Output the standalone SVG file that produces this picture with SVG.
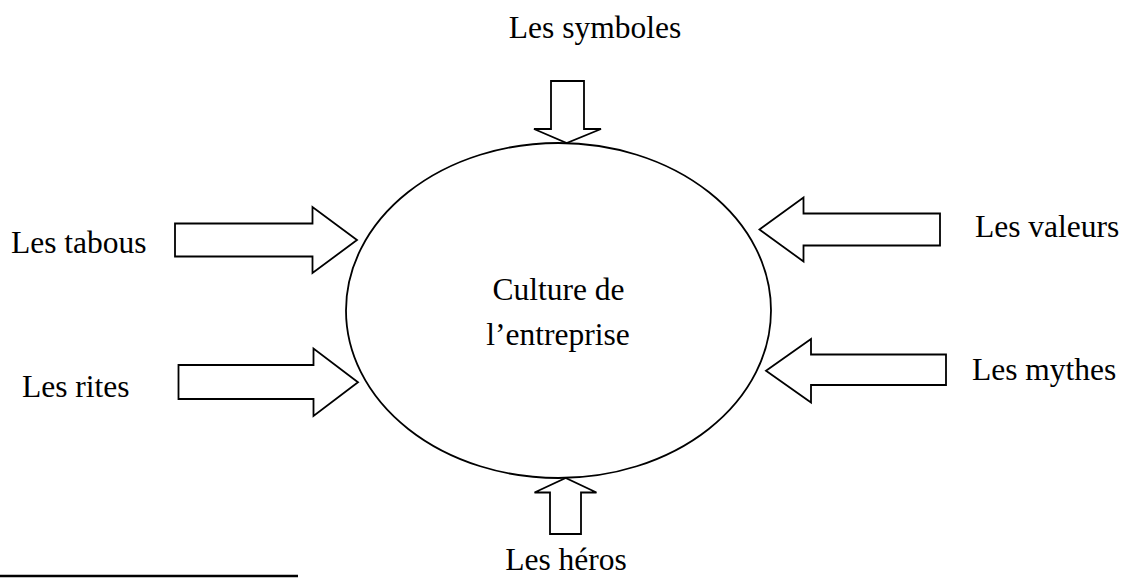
<svg xmlns="http://www.w3.org/2000/svg" width="1129" height="579" viewBox="0 0 1129 579">
<style>
.t{font-family:"Liberation Serif","Times New Roman",serif;font-size:31.5px;fill:#000}
.s{fill:#fff;stroke:#000;stroke-width:1.8;stroke-linejoin:miter}
</style>
<rect width="1129" height="579" fill="#fff"/>
<g id="center">
<ellipse class="s" cx="558.5" cy="310.5" rx="212.5" ry="167.5"/>
<text class="t" x="558.5" y="300" text-anchor="middle">Culture de</text>
<text class="t" x="558" y="345" text-anchor="middle">l’entreprise</text>
</g>
<g id="connectors">
<polygon class="s" points="551,81 584,81 584,129 601,129 566.7,143 534,129 551,129"/>
<polygon class="s" points="175,223.5 312.5,223.5 312.5,207 357,240 312.5,273 312.5,256.5 175,256.5"/>
<polygon class="s" points="940,213.5 803.5,213.5 803.5,197.5 759.5,229.5 803.5,261.5 803.5,245.5 940,245.5"/>
<polygon class="s" points="178.5,365 313.5,365 313.5,348.5 358,382.3 313.5,416 313.5,399 178.5,399"/>
<polygon class="s" points="946,354.5 811,354.5 811,339 766,370.7 811,402.5 811,385 946,385"/>
<polygon class="s" points="550,534 581,534 581,492.5 596.5,492.5 565.7,478 534.5,492.5 550,492.5"/>
</g>
<g id="symboles"><text class="t" x="595" y="38" text-anchor="middle">Les symboles</text></g>
<g id="tabous"><text class="t" x="11" y="252.5">Les tabous</text></g>
<g id="valeurs"><text class="t" x="975" y="236.5">Les valeurs</text></g>
<g id="rites"><text class="t" x="22" y="397">Les rites</text></g>
<g id="mythes"><text class="t" x="972" y="380">Les mythes</text></g>
<g id="heros"><text class="t" x="566" y="570" text-anchor="middle">Les héros</text></g>
<line x1="0" y1="576" x2="298" y2="576" stroke="#000" stroke-width="2.5"/>
</svg>
